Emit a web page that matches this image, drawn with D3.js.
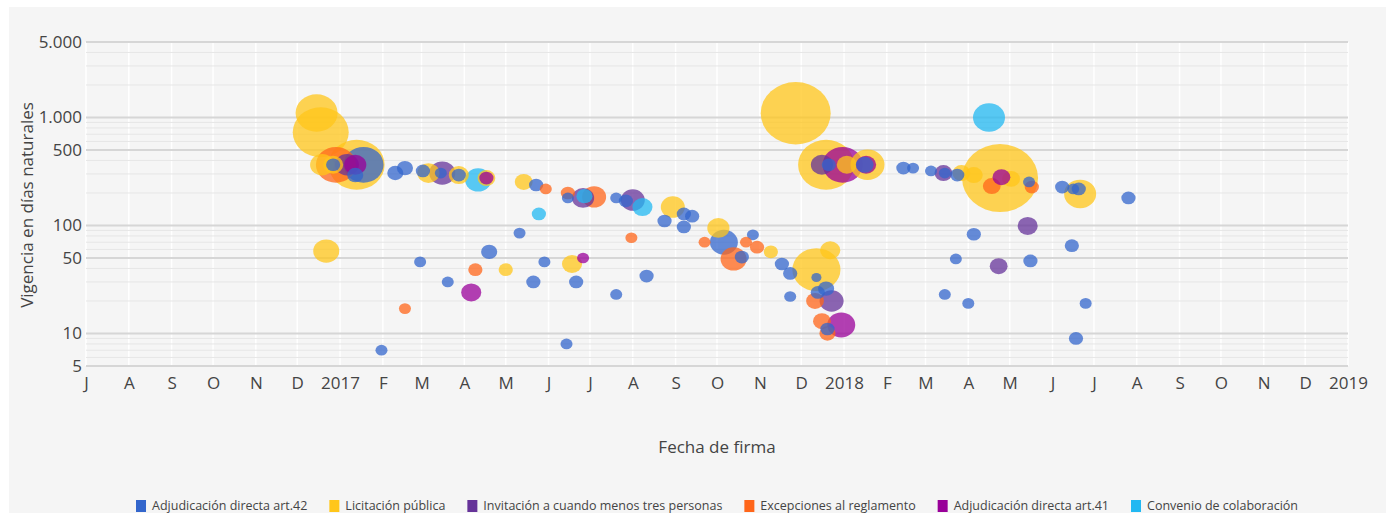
<!DOCTYPE html>
<html>
<head>
<meta charset="utf-8">
<script src="https://cdn.jsdelivr.net/npm/d3@7"></script>
<style>
  body { margin: 0; background: #fff; }
  text { font-family: "Open Sans", sans-serif; }
</style>
</head>
<body>
<div id="chart"></div>
<script>
// categorias y colores (orden de la leyenda)
var tipos = ["Adjudicación directa art.42", "Licitación pública", "Invitación a cuando menos tres personas",
             "Excepciones al reglamento", "Adjudicación directa art.41", "Convenio de colaboración"];
var colores = ["#3366cc", "#ffc61a", "#663399", "#ff661a", "#990099", "#22b8f2"];

// [fecha de firma, vigencia en dias, monto (tamaño de burbuja)]
var adj42 = [
  ["2016-12-27",365,14], ["2017-01-18",365,111], ["2017-01-12",293,18], ["2017-02-10",306,18],
  ["2017-02-17",340,18], ["2017-03-02",320,14], ["2017-03-15",306,10], ["2017-03-28",293,14],
  ["2017-05-23",237,14], ["2017-05-11",85,10], ["2017-04-19",57,18], ["2017-02-28",46,10],
  ["2017-03-20",30,10], ["2017-05-21",30,14], ["2017-01-31",7,10], ["2017-06-15",180,10],
  ["2017-07-20",180,10], ["2017-07-27",169,14], ["2017-09-07",128,14], ["2017-09-13",122,14],
  ["2017-08-24",110,14], ["2017-09-07",97,14], ["2017-10-06",70,54], ["2017-10-27",82,10],
  ["2017-10-19",51,14], ["2017-11-17",44,14], ["2017-05-29",46,10], ["2017-06-21",30,14],
  ["2017-08-11",34,14], ["2017-07-20",23,10], ["2017-06-14",8,10], ["2017-12-21",365,14],
  ["2018-01-16",365,22], ["2018-02-13",340,14], ["2017-11-23",36,14], ["2017-12-12",33,7],
  ["2017-11-23",22,10], ["2017-12-19",26,18], ["2017-12-13",24,14], ["2017-12-20",11,14],
  ["2018-02-20",340,10], ["2018-03-05",320,10], ["2018-03-15",306,10], ["2018-03-24",293,14],
  ["2018-05-15",253,10], ["2018-06-08",227,14], ["2018-06-16",218,10], ["2018-06-20",218,14],
  ["2018-07-26",180,14], ["2018-04-05",83,14], ["2018-06-15",65,14], ["2018-03-23",49,10],
  ["2018-05-16",47,14], ["2018-03-15",23,10], ["2018-04-01",19,10], ["2018-06-25",19,10],
  ["2018-06-18",9,14]
];
var licitacion = [
  ["2016-12-15",1100,122], ["2016-12-18",730,217], ["2016-12-19",365,40], ["2016-12-27",365,28],
  ["2017-01-13",365,217], ["2016-12-22",58,47], ["2017-03-06",306,34], ["2017-03-28",293,28],
  ["2017-04-17",275,22], ["2017-05-14",253,22], ["2017-05-01",39,14], ["2017-06-18",44,28],
  ["2017-08-30",148,40], ["2017-10-02",95,34], ["2017-11-09",57,14], ["2017-11-27",1095,339],
  ["2017-12-19",365,217], ["2018-01-03",365,28], ["2018-01-18",365,80], ["2017-12-12",39,160],
  ["2017-12-22",59,28], ["2018-03-27",306,22], ["2018-04-05",293,22], ["2018-04-24",275,400],
  ["2018-05-02",270,22], ["2018-06-21",196,71]
];
var invitacion = [
  ["2017-01-06",365,40], ["2017-03-16",306,47], ["2017-06-26",180,34], ["2017-08-01",172,40],
  ["2017-12-16",365,34], ["2017-12-23",20,40], ["2018-03-14",306,22], ["2018-05-14",99,28],
  ["2018-04-23",42,22]
];
var excepciones = [
  ["2016-12-29",365,111], ["2017-05-30",218,10], ["2017-04-09",39,14], ["2017-02-17",17,10],
  ["2017-06-15",200,14], ["2017-07-04",184,40], ["2017-07-31",77,10], ["2017-09-22",70,10],
  ["2017-10-22",70,10], ["2017-10-30",63,14], ["2017-10-13",49,47], ["2017-12-11",20,22],
  ["2017-12-16",13,22], ["2017-12-20",10,18], ["2018-04-18",232,22], ["2018-05-17",227,14]
];
var adj41 = [
  ["2017-01-12",365,34], ["2017-04-17",275,14], ["2017-04-06",24,28], ["2017-06-26",50,10],
  ["2017-12-31",365,111], ["2018-01-17",365,28], ["2017-12-30",12,54], ["2018-04-25",280,22]
];
var convenio = [
  ["2017-04-11",264,47], ["2017-05-25",128,14], ["2017-06-27",187,18], ["2017-08-08",148,28],
  ["2018-04-16",1000,71]
];

var yTicks = [5, 10, 50, 100, 500, 1000, 5000];
var mesInicial = ["E","F","M","A","M","J","J","A","S","O","N","D"];

var series = [adj42, licitacion, invitacion, excepciones, adj41, convenio];

var width = 1386, height = 513;
var margin = { left: 86, right: 38, top: 42, bottom: 147 };

var svg = d3.select("#chart").append("svg")
    .attr("width", width)
    .attr("height", height);

// panel gris de fondo
svg.append("rect")
    .attr("x", 9).attr("y", 7)
    .attr("width", width - 9).attr("height", height - 7)
    .attr("fill", "#f5f5f5");

var parse = d3.timeParse("%Y-%m-%d");

var x = d3.scaleTime()
    .domain([new Date(2016, 6, 1), new Date(2019, 0, 1)])
    .range([margin.left, width - margin.right]);

var y = d3.scaleLog()
    .domain([5, 5000])
    .range([height - margin.bottom, margin.top]);

// radio horizontal; la imagen original esta un poco estirada en x
var r = d3.scaleSqrt().domain([0, 400]).range([0, 38]);
var aspecto = 1.12;

var meses = d3.timeMonth.range(new Date(2016, 6, 1), new Date(2019, 0, 2));

// lineas verticales (blancas)
svg.append("g").selectAll("line")
    .data(meses)
    .enter().append("line")
    .attr("x1", d => x(d)).attr("x2", d => x(d))
    .attr("y1", y(5000)).attr("y2", y(5))
    .attr("stroke", "#ffffff")
    .attr("stroke-width", 1.5);

// lineas horizontales menores
var menores = [];
[1, 10, 100, 1000].forEach(p => {
    for (var k = 1; k <= 9; k++) {
        var v = k * p;
        if (v > 5 && v < 5000 && yTicks.indexOf(v) < 0) menores.push(v);
    }
});
svg.append("g").selectAll("line")
    .data(menores)
    .enter().append("line")
    .attr("x1", x.range()[0]).attr("x2", x.range()[1])
    .attr("y1", d => y(d)).attr("y2", d => y(d))
    .attr("stroke", "#e6e6e6")
    .attr("stroke-width", 1);

// lineas horizontales principales
svg.append("g").selectAll("line")
    .data(yTicks)
    .enter().append("line")
    .attr("x1", x.range()[0]).attr("x2", x.range()[1])
    .attr("y1", d => y(d)).attr("y2", d => y(d))
    .attr("stroke", "#d6d6d6")
    .attr("stroke-width", 2);

// eje y
var es = d3.formatLocale({ decimal: ",", thousands: ".", grouping: [3], currency: ["$", ""] });
var yAxis = d3.axisLeft(y)
    .tickValues(yTicks)
    .tickFormat(es.format(",d"))
    .tickSize(0)
    .tickPadding(4);
var yAxisGroup = svg.append("g")
    .attr("transform", "translate(" + margin.left + ",0)")
    .call(yAxis);
yAxisGroup.select(".domain").remove();
yAxisGroup.selectAll("text")
    .attr("font-size", "17px")
    .attr("font-family", "Open Sans")
    .attr("fill", "#444");

// eje x
var xAxis = d3.axisBottom(x)
    .tickValues(meses)
    .tickFormat(d => d.getMonth() === 0 ? d.getFullYear() : mesInicial[d.getMonth()])
    .tickSize(0)
    .tickPadding(11);
var xAxisGroup = svg.append("g")
    .attr("transform", "translate(0," + y(5) + ")")
    .call(xAxis);
xAxisGroup.select(".domain").remove();
xAxisGroup.selectAll("text")
    .attr("font-size", "17px")
    .attr("font-family", "Open Sans")
    .attr("fill", "#444");

// titulos
svg.append("text")
    .attr("x", 717).attr("y", 453)
    .attr("text-anchor", "middle")
    .attr("font-size", "17px")
    .attr("fill", "#444")
    .text("Fecha de firma");

svg.append("text")
    .attr("transform", "translate(27,205) rotate(-90)")
    .attr("text-anchor", "middle")
    .attr("dy", "0.35em")
    .attr("font-size", "17px")
    .attr("fill", "#444")
    .text("Vigencia en días naturales");

// burbujas: las grandes abajo
var puntos = [];
series.forEach((s, i) => {
    s.forEach(d => puntos.push({ fecha: parse(d[0]), dias: d[1], monto: d[2], tipo: i }));
});
puntos.sort((a, b) => b.monto - a.monto);

svg.append("g").selectAll("ellipse")
    .data(puntos)
    .enter().append("ellipse")
    .attr("cx", d => x(d.fecha))
    .attr("cy", d => y(d.dias))
    .attr("rx", d => r(d.monto))
    .attr("ry", d => r(d.monto) / aspecto)
    .attr("fill", d => colores[d.tipo])
    .attr("fill-opacity", 0.75);

// leyenda
var legend = svg.append("g").attr("transform", "translate(0,506)");
var items = legend.selectAll("g")
    .data(tipos)
    .enter().append("g");
items.append("rect")
    .attr("x", 0).attr("y", -6)
    .attr("width", 10).attr("height", 12)
    .attr("fill", (d, i) => colores[i]);
items.append("text")
    .attr("x", 16).attr("dy", "0.35em")
    .attr("font-size", "12.5px")
    .attr("fill", "#444")
    .text(d => d);

var pos = 0, posiciones = [];
items.each(function() {
    posiciones.push(pos);
    pos += 16 + d3.select(this).select("text").node().getComputedTextLength() + 22;
});
var total = pos - 22;
var inicio = 717 - total / 2;
items.attr("transform", (d, i) => "translate(" + (inicio + posiciones[i]) + ",0)");
</script>
</body>
</html>
